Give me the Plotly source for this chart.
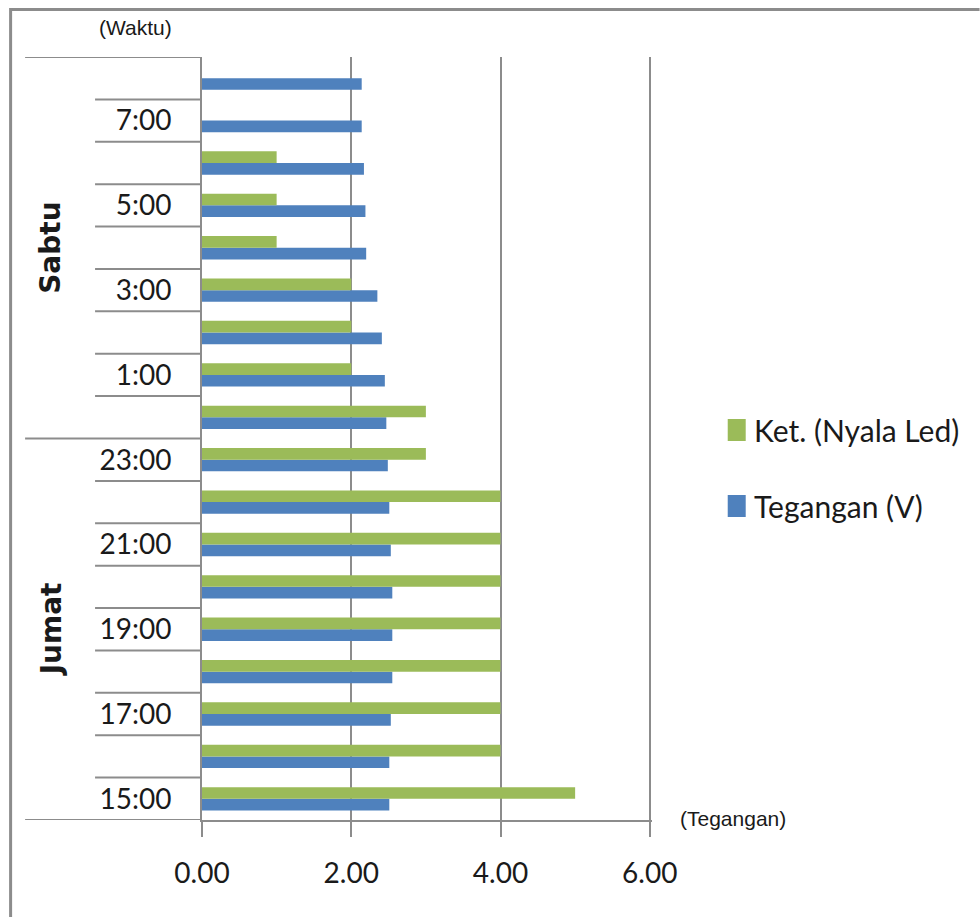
import plotly.graph_objects as go

# Hourly readings, Friday 15:00 through Saturday 08:00 (bottom to top)
hours = ["15:00", "16:00", "17:00", "18:00", "19:00", "20:00", "21:00", "22:00", "23:00",
         "0:00", "1:00", "2:00", "3:00", "4:00", "5:00", "6:00", "7:00", "8:00"]
tegangan = [2.51, 2.51, 2.53, 2.55, 2.55, 2.55, 2.53, 2.51, 2.49,
            2.47, 2.45, 2.41, 2.35, 2.20, 2.19, 2.17, 2.14, 2.14]
nyala_led = [5, 4, 4, 4, 4, 4, 4, 4, 3,
             3, 2, 2, 2, 1, 1, 1, 0, 0]
days = ["Jumat", "Sabtu"]
day_spans = [(0, 8), (9, 17)]
x_ticks = [0, 2, 4, 6]

BLUE = "#4F81BD"
GREEN = "#9BBB59"
GRAY = "#8c8c8c"
TXT = "#1a1a1a"
LABEL_FONT = "Lato, Noto Sans, sans-serif"

W, H = 980, 917
L, R, T, B = 202, 650, 57, 820   # plot area in pixels (x: 0 -> 6)
X_MAX = 6.03                     # a hair past 6 so the last grid line is kept
R_EDGE = L + (R - L) * X_MAX / 6


def px(x):
    return (x - L) / (R_EDGE - L)


def py(y):
    return (B - y) / (B - T)


# every other hour is labelled
tick_text = [h if i % 2 == 0 else "" for i, h in enumerate(hours)]

fig = go.Figure()
fig.add_trace(go.Bar(y=hours, x=tegangan, orientation="h", name="Tegangan (V)",
                     marker=dict(color=BLUE, line=dict(width=0))))
fig.add_trace(go.Bar(y=hours, x=nyala_led, orientation="h", name="Ket. (Nyala Led)",
                     marker=dict(color=GREEN, line=dict(width=0))))

shapes = []
# category boundary ticks on the left of the axis
for k in range(len(hours) - 1):
    boundary = k + 0.5
    is_day_break = any(boundary == s[1] + 0.5 for s in day_spans[:-1])
    shapes.append(dict(type="line", xref="paper", yref="y",
                       x0=px(25 if is_day_break else 95), x1=0, y0=boundary, y1=boundary,
                       line=dict(color=GRAY, width=2)))
# outer day-group lines (top and bottom)
for yv in (-0.5, len(hours) - 0.5):
    shapes.append(dict(type="line", xref="paper", yref="y",
                       x0=px(25), x1=0, y0=yv, y1=yv,
                       line=dict(color=GRAY, width=2)))
# frame border
shapes.append(dict(type="line", xref="paper", yref="paper",
                   x0=px(10), x1=px(980), y0=py(9.5), y1=py(9.5),
                   line=dict(color=GRAY, width=3)))
shapes.append(dict(type="line", xref="paper", yref="paper",
                   x0=px(10.5), x1=px(10.5), y0=py(8), y1=py(917),
                   line=dict(color=GRAY, width=3)))

# legend drawn by hand: swatch + label
legend_items = [("Ket. (Nyala Led)", GREEN, 430), ("Tegangan (V)", BLUE, 506)]
annotations = []
for name, color, cy in legend_items:
    shapes.append(dict(type="rect", xref="paper", yref="paper",
                       x0=px(728), x1=px(746), y0=py(cy - 11), y1=py(cy + 11),
                       fillcolor=color, line=dict(width=0)))
    annotations.append(dict(text=name, xref="paper", yref="paper",
                            x=px(752), y=py(cy), xanchor="left", yanchor="middle",
                            showarrow=False, font=dict(family=LABEL_FONT, size=30, color=TXT)))

# day group labels
for day, (a, b) in zip(days, day_spans):
    annotations.append(dict(text=day, xref="paper", yref="y",
                            x=px(51), y=(a + b) / 2, textangle=-90,
                            xanchor="center", yanchor="middle", showarrow=False,
                            font=dict(family="DejaVu Sans", size=28, color=TXT, weight="bold")))

# axis titles
annotations.append(dict(text="(Waktu)", xref="paper", yref="paper",
                        x=px(135), y=py(28), xanchor="center", yanchor="middle",
                        showarrow=False, font=dict(family="Liberation Sans, Arial", size=21, color=TXT)))
annotations.append(dict(text="(Tegangan)", xref="paper", yref="paper",
                        x=px(733), y=py(818), xanchor="center", yanchor="middle",
                        showarrow=False, font=dict(family="Liberation Sans, Arial", size=21, color=TXT)))

fig.update_layout(
    width=W, height=H,
    margin=dict(l=L, r=W - round(R_EDGE), t=T, b=H - B, pad=0),
    paper_bgcolor="white", plot_bgcolor="white",
    barmode="group", bargap=0.45, bargroupgap=0,
    showlegend=False,
    shapes=shapes, annotations=annotations,
    xaxis=dict(range=[0, X_MAX], tickvals=x_ticks, tickformat=".2f",
               showgrid=True, gridcolor=GRAY, gridwidth=2,
               zeroline=False, showline=True, linecolor=GRAY, linewidth=2,
               ticks="outside", ticklen=15, tickwidth=2, tickcolor=GRAY,
               ticklabelstandoff=12,
               tickfont=dict(family=LABEL_FONT, size=28, color=TXT)),
    yaxis=dict(type="category", categoryorder="array", categoryarray=hours,
               range=[-0.5, len(hours) - 0.5],
               tickvals=hours, ticktext=tick_text, ticks="",
               showgrid=False, zeroline=False,
               showline=True, linecolor=GRAY, linewidth=2,
               ticklabelstandoff=23,
               tickfont=dict(family=LABEL_FONT, size=28, color=TXT)),
)

fig.write_html("out.html")
